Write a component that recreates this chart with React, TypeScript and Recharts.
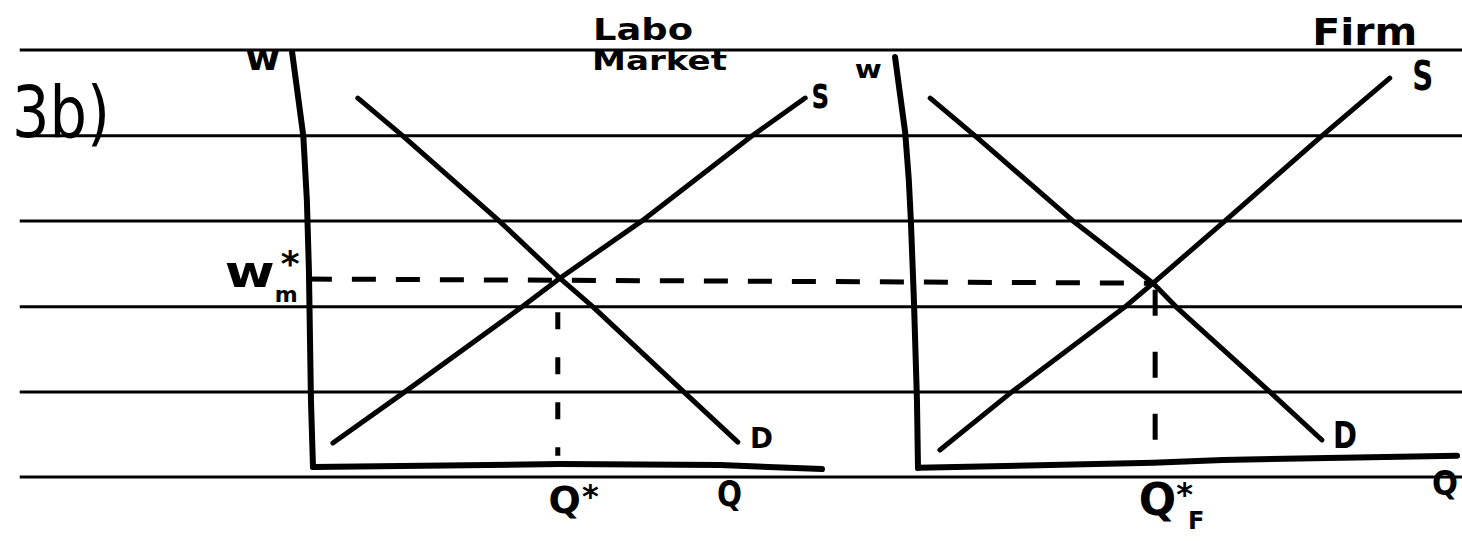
import type { ReactNode } from 'react'
import { ComposedChart, Line, XAxis, YAxis, ReferenceLine, ReferenceDot } from 'recharts'

const INK = '#000'
const FONT = "'DejaVu Sans', sans-serif"

// labour market panel (left), q and w in panel units
const marketDemand = [
  { q: 0.88, w: 8.89 }, { q: 1.76, w: 7.98 }, { q: 3.65, w: 5.93 }, { q: 4.84, w: 4.55 },
  { q: 5.49, w: 3.86 }, { q: 7.27, w: 1.81 }, { q: 8.33, w: 0.6 },
]
const marketSupply = [
  { q: 0.39, w: 0.58 }, { q: 1.8, w: 1.81 }, { q: 4.1, w: 3.86 }, { q: 4.84, w: 4.55 },
  { q: 6.45, w: 5.93 }, { q: 8.61, w: 7.98 }, { q: 9.65, w: 8.89 },
]
const marketWAxis = [
  { q: -0.41, w: 10.0 }, { q: -0.31, w: 9.08 }, { q: -0.19, w: 7.98 }, { q: -0.12, w: 6.43 },
  { q: -0.08, w: 4.75 }, { q: -0.04, w: 1.61 }, { q: 0, w: 0 },
]
const marketQAxis = [
  { q: 0, w: 0 }, { q: 4.84, w: 0.07 }, { q: 7.98, w: 0.05 }, { q: 9.98, w: -0.05 },
]
const marketQStar = [{ q: 4.8, w: 3.73 }, { q: 4.8, w: 0.27 }]
// w*m carried across to the firm (end point sits at the firm's Q*F)
const wageStar = [{ q: -0.1, w: 4.53 }, { q: 16.41, w: 4.43 }]

// firm panel (right)
const firmDemand = [
  { q: 0.24, w: 8.89 }, { q: 1.12, w: 7.98 }, { q: 3.04, w: 5.93 }, { q: 4.61, w: 4.43 },
  { q: 5.06, w: 3.86 }, { q: 6.9, w: 1.81 }, { q: 7.92, w: 0.65 },
]
const firmSupply = [
  { q: 0.43, w: 0.41 }, { q: 1.84, w: 1.81 }, { q: 4.06, w: 3.86 }, { q: 4.61, w: 4.43 },
  { q: 6.02, w: 5.93 }, { q: 7.92, w: 7.98 }, { q: 9.25, w: 9.37 },
]
const firmWAxis = [
  { q: -0.45, w: 9.88 }, { q: -0.35, w: 8.96 }, { q: -0.25, w: 8.05 }, { q: -0.18, w: 6.92 },
  { q: -0.14, w: 5.95 }, { q: -0.08, w: 4.02 }, { q: -0.02, w: 1.61 }, { q: 0, w: -0.02 },
]
const firmQAxis = [
  { q: 0, w: -0.02 }, { q: 4.61, w: 0.1 }, { q: 5.98, w: 0.17 }, { q: 10.57, w: 0.27 },
]
const firmQStar = [{ q: 4.65, w: 4.27 }, { q: 4.65, w: 0.41 }]

// notebook rules
const ruledRows = [10.05, 7.98, 5.93, 3.86, 1.81, -0.24]

const hand = (content: ReactNode, size: number, width?: number, bold = true) => (props: any) => {
  const vb = props.viewBox ?? props.labelViewBox ?? {}
  return (
    <text
      x={vb.x}
      y={vb.y}
      fontSize={size}
      fontFamily={FONT}
      fontWeight={bold ? 700 : 400}
      fill={INK}
      textLength={width}
      lengthAdjust={width ? 'spacingAndGlyphs' : undefined}
    >
      {content}
    </text>
  )
}

const wStarLabel = (
  <>
    <tspan fontSize={44} textLength={50} lengthAdjust="spacingAndGlyphs">w</tspan>
    <tspan fontSize={22} dy={15}>m</tspan>
    <tspan fontSize={36} dx={-17} dy={-26}>*</tspan>
  </>
)
const qStarLabel = (
  <>
    <tspan>Q</tspan>
    <tspan fontSize={32} dx={1} dy={-6}>*</tspan>
  </>
)
const qFStarLabel = (
  <>
    <tspan>Q</tspan>
    <tspan fontSize={32} dy={-10}>*</tspan>
    <tspan fontSize={24} dx={-5} dy={24}>F</tspan>
  </>
)

const ink = { stroke: INK, strokeWidth: 5, strokeLinecap: 'round' as const, strokeLinejoin: 'round' as const }

export default function App() {
  return (
    <div style={{ position: 'absolute', left: 0, top: 0, background: '#fff' }}>
      <ComposedChart width={1462} height={541} margin={{ top: 0, right: 0, bottom: 0, left: 0 }}>
        <XAxis xAxisId="L" dataKey="q" type="number" domain={[-6.137, 22.529]} hide />
        <XAxis xAxisId="R" dataKey="q" type="number" domain={[-18.0, 10.667]} hide />
        <YAxis yAxisId="w" dataKey="w" type="number" domain={[-1.783, 11.253]} hide />

        {ruledRows.map((w) => (
          <ReferenceLine
            key={w}
            xAxisId="L"
            yAxisId="w"
            segment={[{ x: -5.75, y: w }, { x: 22.6, y: w }]}
            stroke={INK}
            strokeWidth={3}
            ifOverflow="visible"
          />
        ))}

        <Line xAxisId="L" yAxisId="w" data={marketWAxis} dataKey="w" dot={false} isAnimationActive={false} {...ink} strokeWidth={6} />
        <Line xAxisId="L" yAxisId="w" data={marketQAxis} dataKey="w" dot={false} isAnimationActive={false} {...ink} strokeWidth={6} />
        <Line xAxisId="L" yAxisId="w" data={marketDemand} dataKey="w" dot={false} isAnimationActive={false} {...ink} />
        <Line xAxisId="L" yAxisId="w" data={marketSupply} dataKey="w" dot={false} isAnimationActive={false} {...ink} />
        <Line xAxisId="L" yAxisId="w" data={wageStar} dataKey="w" dot={false} isAnimationActive={false} {...ink} strokeLinecap="butt" strokeDasharray="24 20" />
        <Line xAxisId="L" yAxisId="w" data={marketQStar} dataKey="w" dot={false} isAnimationActive={false} {...ink} strokeLinecap="butt" strokeDasharray="17 28" />

        <Line xAxisId="R" yAxisId="w" data={firmWAxis} dataKey="w" dot={false} isAnimationActive={false} {...ink} strokeWidth={6} />
        <Line xAxisId="R" yAxisId="w" data={firmQAxis} dataKey="w" dot={false} isAnimationActive={false} {...ink} strokeWidth={6} />
        <Line xAxisId="R" yAxisId="w" data={firmDemand} dataKey="w" dot={false} isAnimationActive={false} {...ink} />
        <Line xAxisId="R" yAxisId="w" data={firmSupply} dataKey="w" dot={false} isAnimationActive={false} {...ink} />
        <Line xAxisId="R" yAxisId="w" data={firmQStar} dataKey="w" dot={false} isAnimationActive={false} {...ink} strokeLinecap="butt" strokeDasharray="26 36" />

        {/* left-hand text */}
        <ReferenceDot xAxisId="L" yAxisId="w" x={-5.9} y={7.95} r={0} stroke="none" label={hand('3b)', 72, 98, false)} />
        <ReferenceDot xAxisId="L" yAxisId="w" x={-1.33} y={9.57} r={0} stroke="none" label={hand('w', 36, 35)} />
        <ReferenceDot xAxisId="L" yAxisId="w" x={5.49} y={10.29} r={0} stroke="none" label={hand('Labo', 30, 100)} />
        <ReferenceDot xAxisId="L" yAxisId="w" x={5.47} y={9.57} r={0} stroke="none" label={hand('Market', 26, 135)} />
        <ReferenceDot xAxisId="L" yAxisId="w" x={9.78} y={8.65} r={0} stroke="none" label={hand('s', 44, 17)} />
        <ReferenceDot xAxisId="L" yAxisId="w" x={8.57} y={0.46} r={0} stroke="none" label={hand('D', 28, 23)} />
        <ReferenceDot xAxisId="L" yAxisId="w" x={-1.73} y={4.34} r={0} stroke="none" label={hand(wStarLabel, 44)} />
        <ReferenceDot xAxisId="L" yAxisId="w" x={4.62} y={-1.11} r={0} stroke="none" label={hand(qStarLabel, 38)} />
        <ReferenceDot xAxisId="L" yAxisId="w" x={7.92} y={-0.94} r={0} stroke="none" label={hand('Q', 36, 25)} />

        {/* right-hand text */}
        <ReferenceDot xAxisId="R" yAxisId="w" x={-1.24} y={9.37} r={0} stroke="none" label={hand('w', 24, 27)} />
        <ReferenceDot xAxisId="R" yAxisId="w" x={7.73} y={10.17} r={0} stroke="none" label={hand('Firm', 38, 105)} />
        <ReferenceDot xAxisId="R" yAxisId="w" x={9.69} y={9.08} r={0} stroke="none" label={hand('S', 40, 21)} />
        <ReferenceDot xAxisId="R" yAxisId="w" x={8.14} y={0.46} r={0} stroke="none" label={hand('D', 38, 24)} />
        <ReferenceDot xAxisId="R" yAxisId="w" x={10.08} y={-0.67} r={0} stroke="none" label={hand('Q', 34, 26)} />
        <ReferenceDot xAxisId="R" yAxisId="w" x={4.33} y={-1.16} r={0} stroke="none" label={hand(qFStarLabel, 44)} />
      </ComposedChart>
    </div>
  )
}
